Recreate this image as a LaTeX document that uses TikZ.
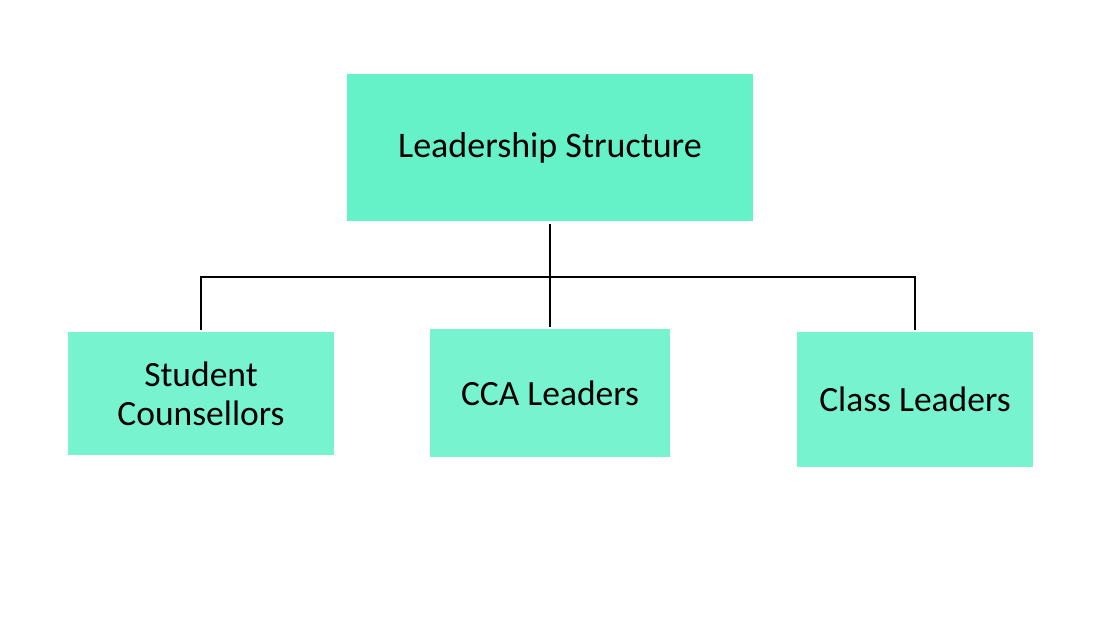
\documentclass[tikz,border=0pt]{standalone}
\usepackage{fontspec}
\setmainfont{Carlito}
\definecolor{topfill}{RGB}{102,242,200}
\definecolor{subfill}{RGB}{120,243,208}
\begin{document}
\begin{tikzpicture}[x=1pt,y=-1pt,
  topbox/.style={fill=topfill,draw=none,inner sep=0pt,align=center,font=\fontsize{36}{40}\selectfont},
  subbox/.style={fill=subfill,draw=none,inner sep=0pt,align=center,font=\fontsize{35.5}{39}\selectfont},
  link/.style={draw=black,line width=2.2pt}]
\useasboundingbox[fill=white] (0,0) rectangle (1117,624);
\node[topbox,minimum width=406pt,minimum height=147pt] (top) at (550,147.5) {Leadership Structure};
\node[subbox,minimum width=266pt,minimum height=123pt] (sc) at (201,393.5) {Student\\Counsellors};
\node[subbox,minimum width=240pt,minimum height=128pt] (cca) at (550,393) {CCA Leaders};
\node[subbox,minimum width=236pt,minimum height=135pt] (cl) at (915,399.5) {Class Leaders};
\coordinate (j) at (550,277);
\draw[link] ([yshift=-3pt]top.south) -- ([yshift=2pt]cca.north);
\draw[link] ([yshift=2pt]sc.north) |- (j) -| ([yshift=2pt]cl.north);
\end{tikzpicture}
\end{document}
